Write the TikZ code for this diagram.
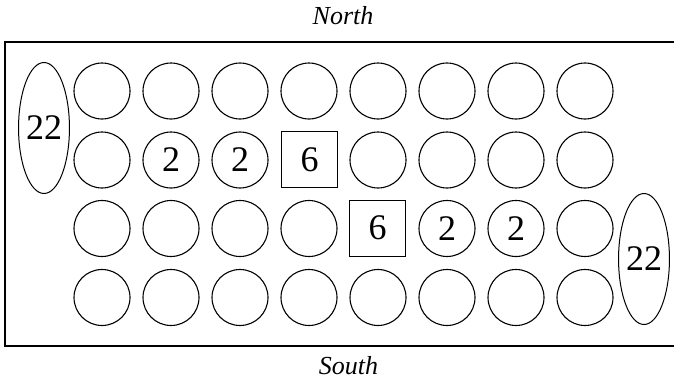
\documentclass[tikz,border=0pt]{standalone}
\usepackage{fontspec}
\setmainfont{Liberation Serif}
\usetikzlibrary{shapes.geometric}
\begin{document}
\begin{tikzpicture}[x=1pt,y=-1pt,
  seat/.style={circle,draw,line width=1.1pt,minimum size=56pt,inner sep=0pt,font=\fontsize{36}{36}\selectfont},
  sq/.style={rectangle,draw,line width=0.9pt,minimum size=56pt,inner sep=0pt,font=\fontsize{36}{36}\selectfont},
  oval/.style={ellipse,draw,line width=1pt,minimum width=49pt,minimum height=131pt,inner sep=0pt,font=\fontsize{36}{36}\selectfont},
  lbl/.style={font=\fontsize{26}{26}\selectfont\itshape,inner sep=0pt,anchor=base}]
\useasboundingbox (0,0) rectangle (674,380);
\draw[line width=1.2pt] (674,42) -- (5,42) -- (5,346) -- (674,346);
\node[lbl] (north) at (343,24) {North};
\node[lbl] (south) at (348.5,374) {South};
% row 1
\foreach \i in {0,...,7} \node[seat] (a\i) at (102+69*\i,91) {};
% row 2
\node[seat] (b0) at (102,160) {};
\node[seat] (b1) at (171,160) {2};
\node[seat] (b2) at (240,160) {2};
\node[sq] (b3) at (309.5,159.5) {6};
\foreach \i in {4,...,7} \node[seat] (b\i) at (102+69*\i,160) {};
% row 3
\foreach \i in {0,...,3} \node[seat] (c\i) at (102+69*\i,228.5) {};
\node[sq] (c4) at (377.5,228) {6};
\node[seat] (c5) at (447,228.5) {2};
\node[seat] (c6) at (516,228.5) {2};
\node[seat] (c7) at (585,228.5) {};
% row 4
\foreach \i in {0,...,7} \node[seat] (d\i) at (102+69*\i,297.5) {};
% ovals
\node[oval] (left) at (44,128) {22};
\node[oval] (right) at (644,259) {22};
\end{tikzpicture}
\end{document}
